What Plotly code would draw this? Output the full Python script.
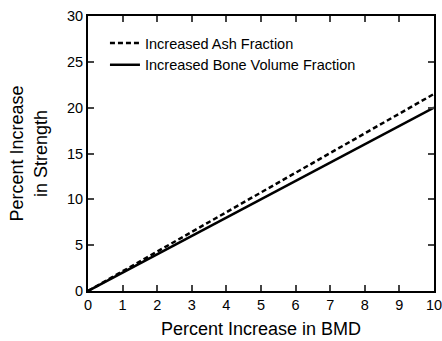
import plotly.graph_objects as go

bmd_increase = [0, 1, 2, 3, 4, 5, 6, 7, 8, 9, 10]
ash_strength = [0, 2.15, 4.3, 6.45, 8.6, 10.75, 12.9, 15.05, 17.2, 19.35, 21.5]
bvf_strength = [0, 2.0, 4.0, 6.0, 8.0, 10.0, 12.0, 14.0, 16.0, 18.0, 20.0]
x_ticks = [0, 1, 2, 3, 4, 5, 6, 7, 8, 9, 10]
y_ticks = [0, 5, 10, 15, 20, 25, 30]

font_family = "Liberation Sans, Arial, sans-serif"

fig = go.Figure()
fig.add_trace(go.Scatter(
    x=bmd_increase, y=ash_strength, mode="lines",
    name="Increased Ash Fraction",
    line=dict(color="black", width=2.5, dash="5px,3px"),
))
fig.add_trace(go.Scatter(
    x=bmd_increase, y=bvf_strength, mode="lines",
    name="Increased Bone Volume Fraction",
    line=dict(color="black", width=2.5),
))

fig.update_layout(
    width=442, height=341,
    margin=dict(l=88, r=8, t=16, b=50),
    plot_bgcolor="white", paper_bgcolor="white",
    font=dict(family=font_family, size=15, color="black"),
    showlegend=True,
    legend=dict(
        x=0.049, y=0.96, xanchor="left", yanchor="top",
        bgcolor="rgba(0,0,0,0)", font=dict(size=14.5),
        itemwidth=30, tracegroupgap=0,
    ),
    xaxis=dict(
        range=[0, 10], tickvals=x_ticks, ticks="inside", ticklen=6, tickwidth=2,
        showline=True, linewidth=2, linecolor="black", mirror="allticks",
        showgrid=False, zeroline=False, automargin=False,
        ticklabeloverflow="allow",
        title=dict(text="Percent Increase in BMD", font=dict(size=18), standoff=10),
        tickfont=dict(size=14.5),
    ),
    yaxis=dict(
        range=[0, 30], tickvals=y_ticks, ticks="inside", ticklen=6, tickwidth=2,
        showline=True, linewidth=2, linecolor="black", mirror="allticks",
        showgrid=False, zeroline=False, automargin=False,
        ticklabeloverflow="allow",
        title=dict(text="Percent Increase<br>in Strength", font=dict(size=18), standoff=15),
        tickfont=dict(size=14.5),
    ),
)

fig.write_html("out.html", config={"displayModeBar": False},
               post_script="document.body.style.margin='0';")
